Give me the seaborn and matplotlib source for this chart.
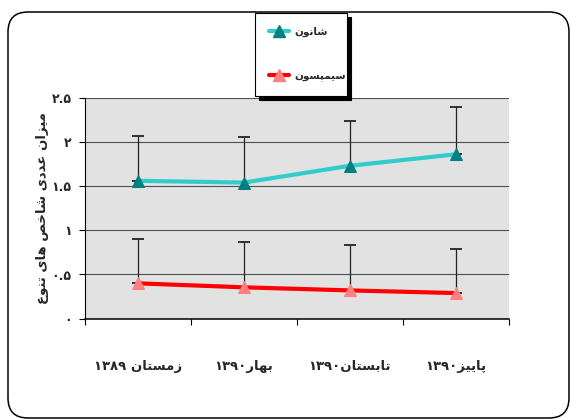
import matplotlib
matplotlib.use("Agg")
import matplotlib.pyplot as plt
from matplotlib.lines import Line2D
from matplotlib.patches import FancyBboxPatch
from matplotlib.transforms import IdentityTransform
import numpy as np
import seaborn as sns

# --- data ---
seasons = ["زمستان ۱۳۸۹", "بهار۱۳۹۰", "تابستان۱۳۹۰", "پاییز۱۳۹۰"]
series_names = ["شانون", "سیمپسون"]
shannon = [1.56, 1.54, 1.73, 1.86]
shannon_err = [0.51, 0.51, 0.51, 0.53]
simpson = [0.40, 0.355, 0.32, 0.29]
simpson_err = [0.50, 0.51, 0.51, 0.50]
y_ticks = [0, 0.5, 1, 1.5, 2, 2.5]
y_tick_labels = ["۰", "۰.۵", "۱", "۱.۵", "۲", "۲.۵"]
y_title = "میزان عددی شاخص های تنوع"

# matplotlib has no Arabic shaping, so map letters to presentation forms
# (isolated, final, initial, medial) and lay them out right-to-left by hand
FORMS = {
    "ا": ("\uFE8D", "\uFE8E"),
    "ب": ("\uFE8F", "\uFE90", "\uFE91", "\uFE92"),
    "پ": ("\uFB56", "\uFB57", "\uFB58", "\uFB59"),
    "ت": ("\uFE95", "\uFE96", "\uFE97", "\uFE98"),
    "خ": ("\uFEA5", "\uFEA6", "\uFEA7", "\uFEA8"),
    "د": ("\uFEA9", "\uFEAA"),
    "ر": ("\uFEAD", "\uFEAE"),
    "ز": ("\uFEAF", "\uFEB0"),
    "س": ("\uFEB1", "\uFEB2", "\uFEB3", "\uFEB4"),
    "ش": ("\uFEB5", "\uFEB6", "\uFEB7", "\uFEB8"),
    "ص": ("\uFEB9", "\uFEBA", "\uFEBB", "\uFEBC"),
    "ع": ("\uFEC9", "\uFECA", "\uFECB", "\uFECC"),
    "م": ("\uFEE1", "\uFEE2", "\uFEE3", "\uFEE4"),
    "ن": ("\uFEE5", "\uFEE6", "\uFEE7", "\uFEE8"),
    "ه": ("\uFEE9", "\uFEEA", "\uFEEB", "\uFEEC"),
    "و": ("\uFEED", "\uFEEE"),
    "ی": ("\uFBFC", "\uFBFD", "\uFBFE", "\uFBFF"),
}
DIGITS = "۰۱۲۳۴۵۶۷۸۹."


def shape(word):
    out = []
    for i, ch in enumerate(word):
        if ch not in FORMS:
            out.append(ch)
            continue
        prev = word[i - 1] if i > 0 else ""
        nxt = word[i + 1] if i + 1 < len(word) else ""
        join_prev = prev in FORMS and len(FORMS[prev]) == 4
        join_next = len(FORMS[ch]) == 4 and nxt in FORMS
        if join_prev and join_next:
            out.append(FORMS[ch][3])
        elif join_prev:
            out.append(FORMS[ch][1])
        elif join_next:
            out.append(FORMS[ch][2])
        else:
            out.append(FORMS[ch][0])
    return "".join(out)


def fa(text):
    shaped = shape(text)
    runs, cur, cur_digit = [], "", None
    for ch in shaped:
        is_digit = ch in DIGITS
        if cur and is_digit != cur_digit:
            runs.append((cur, cur_digit))
            cur = ""
        cur += ch
        cur_digit = is_digit
    if cur:
        runs.append((cur, cur_digit))
    return "".join(r if d else r[::-1] for r, d in reversed(runs))


sns.set_style("white")
plt.rcParams["font.family"] = ["DejaVu Sans"]

fig = plt.figure(figsize=(5.7, 4.19), dpi=100)
ax = fig.add_axes([84.7 / 570, 1 - 318.7 / 419, (509 - 84.7) / 570, (318.7 - 97.7) / 419])
ax.set_facecolor("#e2e2e2")

x = np.arange(len(seasons))

ax.errorbar(x, shannon, yerr=[np.zeros(len(x)), shannon_err], fmt="none",
            ecolor="#222222", elinewidth=0.9, capsize=4, capthick=1.3, zorder=3)
ax.errorbar(x, simpson, yerr=[np.zeros(len(x)), simpson_err], fmt="none",
            ecolor="#222222", elinewidth=0.9, capsize=4, capthick=1.3, zorder=3)

sns.lineplot(x=x, y=shannon, ax=ax, color="#33CCCC", linewidth=3, marker="^",
             markersize=9, markerfacecolor="#008080", markeredgecolor="#008080", zorder=4)
sns.lineplot(x=x, y=simpson, ax=ax, color="#FF0000", linewidth=3, marker="^",
             markersize=9, markerfacecolor="#FF8080", markeredgecolor="#FF8080", zorder=4)

ax.set_xlim(-0.5, len(seasons) - 0.5)
ax.set_ylim(0, 2.5)

ax.set_yticks(y_ticks)
ax.set_yticklabels(y_tick_labels, fontsize=9, fontweight="bold")
ax.yaxis.grid(True, color="#505050", linewidth=0.8)
ax.tick_params(axis="y", left=True, length=4.5, width=0.8, color="black", pad=5)

ax.set_xticks(x)
ax.set_xticklabels([fa(s) for s in seasons], fontsize=9.5, fontweight="bold")
ax.set_xticks(np.arange(-0.5, len(seasons)), minor=True)
ax.tick_params(axis="x", which="major", length=0, pad=30)
ax.tick_params(axis="x", which="minor", bottom=True, length=4.5, width=0.8, color="black")

ax.set_ylabel(fa(y_title), fontsize=9.5, fontweight="bold")
ax.yaxis.set_label_coords(-0.083, 0.5)

for side in ["top", "right"]:
    ax.spines[side].set_visible(False)
ax.spines["left"].set_color("black")
ax.spines["bottom"].set_color("black")
ax.spines["bottom"].set_linewidth(1.1)

handles = [
    Line2D([], [], color="#33CCCC", lw=3, marker="^", ms=9, mfc="#008080", mec="#008080"),
    Line2D([], [], color="#FF0000", lw=3, marker="^", ms=9, mfc="#FF8080", mec="#FF8080"),
]
leg = fig.legend(handles, [fa(n) for n in series_names], loc="upper left",
                 bbox_to_anchor=(255 / 570, 1 - 97 / 419, 92 / 570, 84 / 419),
                 mode="expand", borderaxespad=0,
                 frameon=True, fancybox=False, edgecolor="black",
                 shadow={"color": "black", "alpha": 1, "ox": 3, "oy": -3},
                 labelspacing=3.3, handlelength=2.0, handletextpad=0.5,
                 borderpad=1.3, prop={"size": 7.5, "weight": "bold"})
leg.get_frame().set_linewidth(0.8)

border = FancyBboxPatch((8, 1), 561, 406, boxstyle="round,pad=0,rounding_size=20",
                        transform=IdentityTransform(), facecolor="none",
                        edgecolor="black", linewidth=1.1)
fig.patches.append(border)

fig.savefig("out.png", dpi=100)
